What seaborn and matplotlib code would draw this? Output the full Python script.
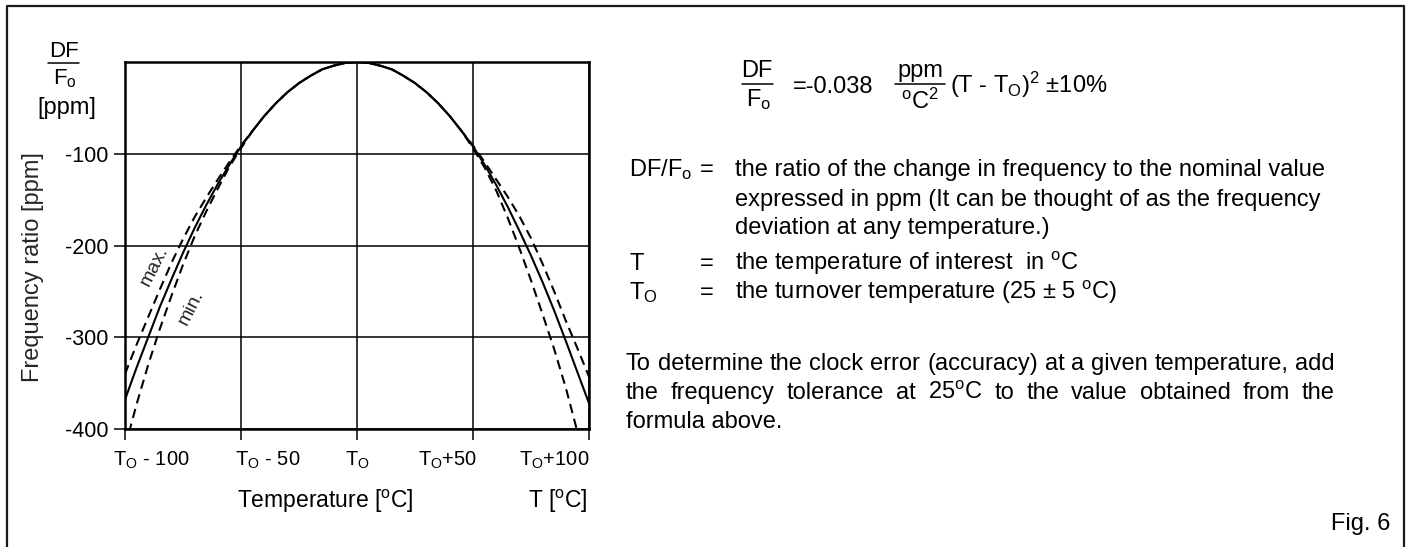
import matplotlib
matplotlib.use('Agg')
import matplotlib.pyplot as plt
from matplotlib.transforms import ScaledTranslation
from matplotlib.lines import Line2D
import seaborn as sns
import pandas as pd

# values (deviation from T0 in degC, ratio in ppm)
temps = [-100, -95, -90, -85, -80, -75, -70, -65, -60, -55, -50,
         -45, -40, -35, -30, -25, -20, -15, -10, -5, 0,
         5, 10, 15, 20, 25, 30, 35, 40, 45, 50,
         55, 60, 65, 70, 75, 80, 85, 90, 95, 100]
ratio_nom = [-368, -333, -300, -267, -237, -208, -181, -156, -133, -112, -92,
             -75, -59, -45, -33, -23, -15, -8, -4, -1, 0,
             -1, -4, -8, -15, -23, -33, -45, -59, -75, -92,
             -112, -134, -158, -184, -211, -240, -271, -304, -338, -372]
ratio_max = [-340, -308, -278, -248, -219, -193, -169, -148, -128, -109, -91,
             -75, -59, -45, -33, -23, -15, -8, -4, -1, 0,
             -1, -4, -8, -15, -23, -33, -45, -59, -75, -91,
             -109, -128, -147, -168, -192, -220, -250, -282, -312, -343]
ratio_min = [-420, -373, -330, -291, -255, -221, -190, -163, -138, -114, -94,
             -75, -59, -45, -33, -23, -15, -8, -4, -1, 0,
             -1, -4, -8, -15, -23, -33, -45, -59, -75, -94,
             -115, -140, -170, -203, -238, -275, -313, -355, -403, -455]

x_ticks = [-100, -50, 0, 50, 100]
x_tick_labels = [r'T$_\mathrm{O}$ - 100', r'T$_\mathrm{O}$ - 50', r'T$_\mathrm{O}$',
                 r'T$_\mathrm{O}$+50', r'T$_\mathrm{O}$+100']
y_ticks = [-100, -200, -300, -400]
y_tick_labels = ['-100', '-200', '-300', '-400']

sns.set_style('ticks')
plt.rcParams['font.family'] = ['Liberation Sans', 'DejaVu Sans']
plt.rcParams['mathtext.fontset'] = 'custom'
plt.rcParams['mathtext.rm'] = 'Liberation Sans'
plt.rcParams['mathtext.it'] = 'Liberation Sans:italic'
plt.rcParams['mathtext.bf'] = 'Liberation Sans:bold'

W, H = 1412, 547
fig = plt.figure(figsize=(W / 100, H / 100), dpi=100)
fig.patch.set_facecolor('white')


def px(x, y):
    return x / W, 1 - y / H


def ftext(x, y, s, size=17, **kw):
    kw.setdefault('va', 'baseline')
    return fig.text(*px(x, y), s, fontsize=size, color='black', **kw)


def hline(x0, x1, y, lw=1.1):
    fig.add_artist(Line2D([x0 / W, x1 / W], [1 - y / H, 1 - y / H],
                          color='black', lw=lw, transform=fig.transFigure))


# frame around the figure
fig.add_artist(Line2D([7 / W, 7 / W, 1404 / W, 1404 / W],
                      [0, 1 - 6 / H, 1 - 6 / H, 0], color='#1a1a1a', lw=1.6,
                      transform=fig.transFigure))

ax = fig.add_axes([125 / W, 1 - 429 / H, 464 / W, 367 / H])

n = len(temps)
df = pd.DataFrame({
    'T': temps * 3,
    'ratio': ratio_nom + ratio_max + ratio_min,
    'curve': ['nom'] * n + ['max'] * n + ['min'] * n,
})
sns.lineplot(data=df, x='T', y='ratio', style='curve',
             dashes={'nom': '', 'max': (4.5, 2.8), 'min': (4.5, 2.8)},
             color='black', lw=1.5, sort=False, legend=False, ax=ax)

ax.set_xlim(-100, 100)
ax.set_ylim(-400, 0)
ax.set_xticks(x_ticks, x_tick_labels)
ax.set_yticks(y_ticks, y_tick_labels)
ax.grid(True, color='black', lw=1.1)
ax.set_axisbelow(True)
for sp in ax.spines.values():
    sp.set_color('black')
    sp.set_linewidth(1.8)
ax.tick_params(axis='both', direction='out', length=8, width=1.1,
               labelsize=14.5, colors='black')
ax.tick_params(axis='x', pad=7)
ax.tick_params(axis='y', pad=4, labelsize=15.5)
ax.set_xlabel('')

offsets = [('left', -12), ('left', -6), ('center', 0), ('right', 4), ('right', 1)]
for lab, (ha, dx) in zip(ax.get_xticklabels(), offsets):
    lab.set_horizontalalignment(ha)
    lab.set_transform(lab.get_transform() + ScaledTranslation(dx / 100, 0, fig.dpi_scale_trans))

ax.set_ylabel('Frequency ratio [ppm]', fontsize=17, va='center')
ax.yaxis.set_label_coords(-0.198, 0.44)

ax.text(-87.5, -222, 'max.', rotation=63, fontsize=14, ha='center', va='center')
ax.text(-71.5, -268, 'min.', rotation=63, fontsize=14, ha='center', va='center')

# axis unit labels
ftext(325, 508, r'Temperature [$^\mathrm{o}$C]', size=16.5, ha='center')
ftext(588, 508, r'T [$^\mathrm{o}$C]', size=16.5, ha='right')

# DF/Fo [ppm] label above the y axis
ftext(64, 57, 'DF', size=16, ha='center')
hline(48, 79, 63)
ftext(65, 84, r'F$_\mathrm{o}$', size=16, ha='center')
ftext(67, 114, '[ppm]', size=17, ha='center')

# formula
ftext(757, 77, 'DF', ha='center')
hline(742, 773, 84)
ftext(759, 106, r'F$_\mathrm{o}$', ha='center')
ftext(793, 93, '=-0.038', ha='left')
ftext(920, 77, 'ppm', ha='center')
hline(895, 945, 84)
ftext(920, 109, r'$^\mathrm{o}$C$^2$', ha='center')
ftext(950, 93, r'(T - T$_\mathrm{O}$)$^2$ ±10%', ha='left')

# definitions
ftext(629, 176, r'DF/F$_\mathrm{o}$')
ftext(700, 176, '=')
ftext(735, 176, 'the ratio of the change in frequency to the nominal value')
ftext(735, 206, 'expressed in ppm (It can be thought of as the frequency')
ftext(735, 234, 'deviation at any temperature.)')
ftext(629, 270, 'T')
ftext(700, 270, '=')
ftext(735, 270, r'the temperature of interest  in $^\mathrm{o}$C')
ftext(629, 299, r'T$_\mathrm{O}$')
ftext(700, 299, '=')
ftext(735, 299, r'the turnover temperature (25 ± 5 $^\mathrm{o}$C)')

renderer = fig.canvas.get_renderer()


def justified(line, x0, x1, y):
    words = [ftext(x0, y, w) for w in line.split(' ')]
    widths = [t.get_window_extent(renderer).width for t in words]
    gap = (x1 - x0 - sum(widths)) / (len(words) - 1)
    x = x0
    for t, w in zip(words, widths):
        t.set_position(px(x, y))
        x += w + gap


justified('To determine the clock error (accuracy) at a given temperature, add', 626, 1335, 370)
justified(r'the frequency tolerance at 25$^\mathrm{o}$C to the value obtained from the', 626, 1335, 399)
ftext(626, 428, 'formula above.')
ftext(1390, 530, 'Fig. 6', size=17, ha='right')

fig.savefig('out.png', dpi=100)
